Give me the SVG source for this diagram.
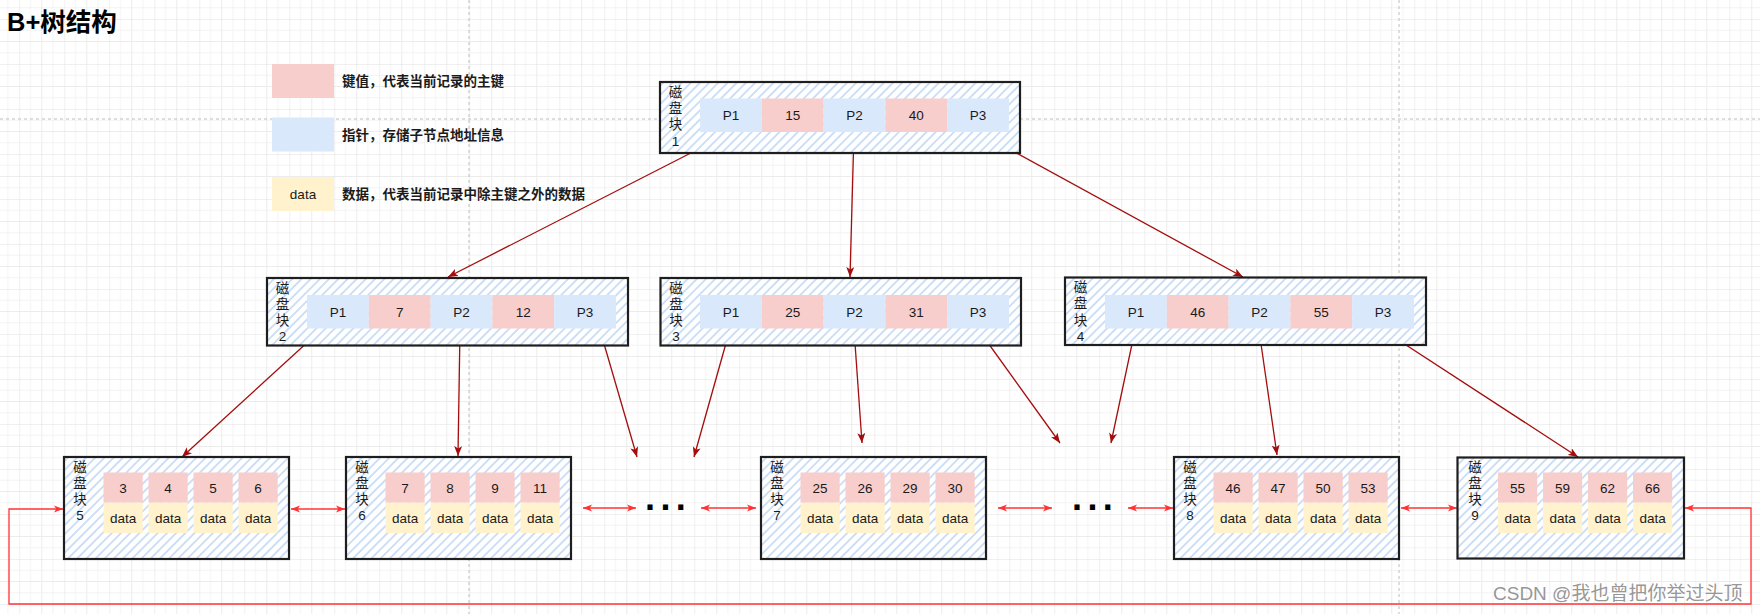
<svg xmlns="http://www.w3.org/2000/svg" width="1760" height="614" viewBox="0 0 1760 614">
<defs>
<pattern id="grid" patternUnits="userSpaceOnUse" x="19.25" y="19" width="45" height="45">
<path d="M11.25 0V45M33.75 0V45M0 11.25H45M0 33.75H45" stroke="#f3f3f3" stroke-width="1" fill="none"/>
<path d="M22.5 0V45M0 22.5H45" stroke="#ececec" stroke-width="1" fill="none"/>
<path d="M0 0V45M0 0H45" stroke="#e2e2e2" stroke-width="1" fill="none"/>
</pattern>
<pattern id="hatch" patternUnits="userSpaceOnUse" width="6.5" height="6.5" patternTransform="rotate(45)">
<rect width="6.5" height="6.5" fill="#ffffff"/>
<line x1="1" y1="0" x2="1" y2="6.5" stroke="#c6dbf6" stroke-width="1.7"/>
</pattern>
<marker id="ah" viewBox="0 0 10 8" refX="10" refY="4" markerWidth="10" markerHeight="8" markerUnits="userSpaceOnUse" orient="auto">
<path d="M0 0L10 4L0 8L2.5 4Z" fill="#a30d0d"/>
</marker>
<marker id="rh" viewBox="0 0 10 8" refX="10" refY="4" markerWidth="9" markerHeight="7.5" markerUnits="userSpaceOnUse" orient="auto-start-reverse">
<path d="M0 0L10 4L0 8L2.5 4Z" fill="#ff3333"/>
</marker>
</defs>
<style>
.frame{fill:url(#hatch);stroke:#1e1e1e;stroke-width:2.2}
.k{fill:#f8cecc}
.p{fill:#dae8fc}
.d{fill:#fff2cc}
.t{font-family:"Liberation Sans",Arial,sans-serif;font-size:13.5px;fill:#1a1a1a;text-anchor:middle}
.lab{font-family:"Liberation Sans","Noto Sans CJK SC",sans-serif;font-size:13.5px;fill:#1a1a1a;text-anchor:middle}
.leg{font-family:"Liberation Sans","Noto Sans CJK SC",sans-serif;font-size:13.5px;font-weight:bold;fill:#1a1a1a}
.tree{stroke:#a30d0d;stroke-width:1.3;fill:none;marker-end:url(#ah)}
.link{stroke:#ff3333;stroke-width:1.3;fill:none;marker-start:url(#rh);marker-end:url(#rh)}
.dots{font-family:"Liberation Sans",Arial,sans-serif;font-size:36px;font-weight:bold;fill:#000;letter-spacing:5.4px}
</style>
<rect width="1760" height="614" fill="#ffffff"/>
<rect width="1760" height="614" fill="url(#grid)"/>
<g id="pagebreaks" stroke="#bdbdbd" stroke-width="1" stroke-dasharray="3 3">
<line x1="0" y1="119" x2="1760" y2="119"/>
<line x1="469" y1="0" x2="469" y2="614"/>
<line x1="1399" y1="0" x2="1399" y2="614"/>
</g>
<g id="title"><text x="7" y="31" font-family="Liberation Sans,'Noto Sans CJK SC',sans-serif" font-size="25.5" font-weight="bold" fill="#000">B+树结构</text></g>
<g id="legend">
<rect class="k" x="272" y="64" width="62" height="34"/>
<text class="leg" x="342" y="86">键值，代表当前记录的主键</text>
<rect class="p" x="272" y="117.5" width="62" height="34"/>
<text class="leg" x="342" y="139.5">指针，存储子节点地址信息</text>
<rect class="d" x="272" y="177" width="62" height="34"/>
<text class="t" x="303" y="198.5">data</text>
<text class="leg" x="342" y="198.5">数据，代表当前记录中除主键之外的数据</text>
</g>
<g id="connectors">
<line class="tree" x1="730" y1="133" x2="448" y2="277"/>
<line class="tree" x1="854" y1="132" x2="850" y2="277"/>
<line class="tree" x1="978" y1="132" x2="1243" y2="277"/>
<line class="tree" x1="322" y1="329" x2="182" y2="457"/>
<line class="tree" x1="460" y1="329" x2="458" y2="456"/>
<line class="tree" x1="600" y1="330" x2="637" y2="457"/>
<line class="tree" x1="730" y1="329" x2="694" y2="457"/>
<line class="tree" x1="854" y1="329" x2="862" y2="443"/>
<line class="tree" x1="978" y1="329" x2="1060" y2="443"/>
<line class="tree" x1="1135" y1="330" x2="1111" y2="443"/>
<line class="tree" x1="1259" y1="330" x2="1277" y2="455"/>
<line class="tree" x1="1383" y1="330" x2="1578" y2="457"/>
<line class="link" x1="291" y1="509" x2="345" y2="509"/>
<line class="link" x1="583" y1="508" x2="636" y2="508"/>
<line class="link" x1="701" y1="508" x2="756" y2="508"/>
<line class="link" x1="998" y1="508" x2="1052" y2="508"/>
<line class="link" x1="1128" y1="508" x2="1173" y2="508"/>
<line class="link" x1="1401" y1="508" x2="1457" y2="508"/>
<path class="link" d="M63 509H9V604H1751V508H1685"/>
</g>
<g id="ellipsis1"><text class="dots" x="645" y="510">...</text></g>
<g id="ellipsis2"><text class="dots" x="1072" y="510">...</text></g>
<g id="node1">
<rect class="frame" x="660" y="82" width="360" height="71"/>
<rect class="p" x="700" y="98.5" width="61.8" height="33.5"/>
<rect class="k" x="761.8" y="98.5" width="61.8" height="33.5"/>
<rect class="p" x="823.6" y="98.5" width="61.8" height="33.5"/>
<rect class="k" x="885.4" y="98.5" width="61.8" height="33.5"/>
<rect class="p" x="947.2" y="98.5" width="61.8" height="33.5"/>
<text class="t" x="730.9" y="120">P1</text><text class="t" x="792.7" y="120">15</text><text class="t" x="854.5" y="120">P2</text><text class="t" x="916.3" y="120">40</text><text class="t" x="978.1" y="120">P3</text>
<text class="lab" x="675.5"><tspan x="675.5" y="97">磁</tspan><tspan x="675.5" y="113.2">盘</tspan><tspan x="675.5" y="129.4">块</tspan><tspan x="675.5" y="145.6">1</tspan></text>
</g>
<g id="node2">
<rect class="frame" x="267" y="278" width="361" height="67.5"/>
<rect class="p" x="307" y="295" width="61.8" height="33.5"/>
<rect class="k" x="368.8" y="295" width="61.8" height="33.5"/>
<rect class="p" x="430.6" y="295" width="61.8" height="33.5"/>
<rect class="k" x="492.4" y="295" width="61.8" height="33.5"/>
<rect class="p" x="554.2" y="295" width="61.8" height="33.5"/>
<text class="t" x="337.9" y="316.5">P1</text><text class="t" x="399.7" y="316.5">7</text><text class="t" x="461.5" y="316.5">P2</text><text class="t" x="523.3" y="316.5">12</text><text class="t" x="585.1" y="316.5">P3</text>
<text class="lab" x="282.5"><tspan x="282.5" y="292.7">磁</tspan><tspan x="282.5" y="308.9">盘</tspan><tspan x="282.5" y="325.1">块</tspan><tspan x="282.5" y="341.3">2</tspan></text>
</g>
<g id="node3">
<rect class="frame" x="660.5" y="278" width="360.5" height="67.5"/>
<rect class="p" x="700" y="295" width="61.8" height="33.5"/>
<rect class="k" x="761.8" y="295" width="61.8" height="33.5"/>
<rect class="p" x="823.6" y="295" width="61.8" height="33.5"/>
<rect class="k" x="885.4" y="295" width="61.8" height="33.5"/>
<rect class="p" x="947.2" y="295" width="61.8" height="33.5"/>
<text class="t" x="730.9" y="316.5">P1</text><text class="t" x="792.7" y="316.5">25</text><text class="t" x="854.5" y="316.5">P2</text><text class="t" x="916.3" y="316.5">31</text><text class="t" x="978.1" y="316.5">P3</text>
<text class="lab" x="676"><tspan x="676" y="292.7">磁</tspan><tspan x="676" y="308.9">盘</tspan><tspan x="676" y="325.1">块</tspan><tspan x="676" y="341.3">3</tspan></text>
</g>
<g id="node4">
<rect class="frame" x="1065" y="277.5" width="361" height="67.5"/>
<rect class="p" x="1105" y="295" width="61.8" height="33.5"/>
<rect class="k" x="1166.8" y="295" width="61.8" height="33.5"/>
<rect class="p" x="1228.6" y="295" width="61.8" height="33.5"/>
<rect class="k" x="1290.4" y="295" width="61.8" height="33.5"/>
<rect class="p" x="1352.2" y="295" width="61.8" height="33.5"/>
<text class="t" x="1135.9" y="316.5">P1</text><text class="t" x="1197.7" y="316.5">46</text><text class="t" x="1259.5" y="316.5">P2</text><text class="t" x="1321.3" y="316.5">55</text><text class="t" x="1383.1" y="316.5">P3</text>
<text class="lab" x="1080.5"><tspan x="1080.5" y="292.2">磁</tspan><tspan x="1080.5" y="308.4">盘</tspan><tspan x="1080.5" y="324.6">块</tspan><tspan x="1080.5" y="340.8">4</tspan></text>
</g>
<g id="node5">
<rect class="frame" x="64" y="457" width="225" height="102"/>
<rect class="k" x="103.5" y="472.5" width="39.2" height="30.2"/><rect class="k" x="148.5" y="472.5" width="39.2" height="30.2"/><rect class="k" x="193.5" y="472.5" width="39.2" height="30.2"/><rect class="k" x="238.5" y="472.5" width="39.2" height="30.2"/>
<rect class="d" x="103.5" y="502.7" width="39.2" height="30.3"/><rect class="d" x="148.5" y="502.7" width="39.2" height="30.3"/><rect class="d" x="193.5" y="502.7" width="39.2" height="30.3"/><rect class="d" x="238.5" y="502.7" width="39.2" height="30.3"/>
<text class="t" x="123.1" y="492.5">3</text><text class="t" x="168.1" y="492.5">4</text><text class="t" x="213.1" y="492.5">5</text><text class="t" x="258.1" y="492.5">6</text>
<text class="t" x="123.1" y="522.7">data</text><text class="t" x="168.1" y="522.7">data</text><text class="t" x="213.1" y="522.7">data</text><text class="t" x="258.1" y="522.7">data</text>
<text class="lab" x="80"><tspan x="80" y="471.5">磁</tspan><tspan x="80" y="487.7">盘</tspan><tspan x="80" y="503.9">块</tspan><tspan x="80" y="520.1">5</tspan></text>
</g>
<g id="node6">
<rect class="frame" x="346" y="457" width="225" height="102"/>
<rect class="k" x="385.5" y="472.5" width="39.2" height="30.2"/><rect class="k" x="430.5" y="472.5" width="39.2" height="30.2"/><rect class="k" x="475.5" y="472.5" width="39.2" height="30.2"/><rect class="k" x="520.5" y="472.5" width="39.2" height="30.2"/>
<rect class="d" x="385.5" y="502.7" width="39.2" height="30.3"/><rect class="d" x="430.5" y="502.7" width="39.2" height="30.3"/><rect class="d" x="475.5" y="502.7" width="39.2" height="30.3"/><rect class="d" x="520.5" y="502.7" width="39.2" height="30.3"/>
<text class="t" x="405.1" y="492.5">7</text><text class="t" x="450.1" y="492.5">8</text><text class="t" x="495.1" y="492.5">9</text><text class="t" x="540.1" y="492.5">11</text>
<text class="t" x="405.1" y="522.7">data</text><text class="t" x="450.1" y="522.7">data</text><text class="t" x="495.1" y="522.7">data</text><text class="t" x="540.1" y="522.7">data</text>
<text class="lab" x="362"><tspan x="362" y="471.5">磁</tspan><tspan x="362" y="487.7">盘</tspan><tspan x="362" y="503.9">块</tspan><tspan x="362" y="520.1">6</tspan></text>
</g>
<g id="node7">
<rect class="frame" x="761" y="457" width="225" height="102"/>
<rect class="k" x="800.5" y="472.5" width="39.2" height="30.2"/><rect class="k" x="845.5" y="472.5" width="39.2" height="30.2"/><rect class="k" x="890.5" y="472.5" width="39.2" height="30.2"/><rect class="k" x="935.5" y="472.5" width="39.2" height="30.2"/>
<rect class="d" x="800.5" y="502.7" width="39.2" height="30.3"/><rect class="d" x="845.5" y="502.7" width="39.2" height="30.3"/><rect class="d" x="890.5" y="502.7" width="39.2" height="30.3"/><rect class="d" x="935.5" y="502.7" width="39.2" height="30.3"/>
<text class="t" x="820.1" y="492.5">25</text><text class="t" x="865.1" y="492.5">26</text><text class="t" x="910.1" y="492.5">29</text><text class="t" x="955.1" y="492.5">30</text>
<text class="t" x="820.1" y="522.7">data</text><text class="t" x="865.1" y="522.7">data</text><text class="t" x="910.1" y="522.7">data</text><text class="t" x="955.1" y="522.7">data</text>
<text class="lab" x="777"><tspan x="777" y="471.5">磁</tspan><tspan x="777" y="487.7">盘</tspan><tspan x="777" y="503.9">块</tspan><tspan x="777" y="520.1">7</tspan></text>
</g>
<g id="node8">
<rect class="frame" x="1174" y="457" width="225" height="102"/>
<rect class="k" x="1213.5" y="472.5" width="39.2" height="30.2"/><rect class="k" x="1258.5" y="472.5" width="39.2" height="30.2"/><rect class="k" x="1303.5" y="472.5" width="39.2" height="30.2"/><rect class="k" x="1348.5" y="472.5" width="39.2" height="30.2"/>
<rect class="d" x="1213.5" y="502.7" width="39.2" height="30.3"/><rect class="d" x="1258.5" y="502.7" width="39.2" height="30.3"/><rect class="d" x="1303.5" y="502.7" width="39.2" height="30.3"/><rect class="d" x="1348.5" y="502.7" width="39.2" height="30.3"/>
<text class="t" x="1233.1" y="492.5">46</text><text class="t" x="1278.1" y="492.5">47</text><text class="t" x="1323.1" y="492.5">50</text><text class="t" x="1368.1" y="492.5">53</text>
<text class="t" x="1233.1" y="522.7">data</text><text class="t" x="1278.1" y="522.7">data</text><text class="t" x="1323.1" y="522.7">data</text><text class="t" x="1368.1" y="522.7">data</text>
<text class="lab" x="1190"><tspan x="1190" y="471.5">磁</tspan><tspan x="1190" y="487.7">盘</tspan><tspan x="1190" y="503.9">块</tspan><tspan x="1190" y="520.1">8</tspan></text>
</g>
<g id="node9">
<rect class="frame" x="1457.5" y="457.5" width="226.5" height="101"/>
<rect class="k" x="1498" y="472.5" width="39.2" height="30.2"/><rect class="k" x="1543" y="472.5" width="39.2" height="30.2"/><rect class="k" x="1588" y="472.5" width="39.2" height="30.2"/><rect class="k" x="1633" y="472.5" width="39.2" height="30.2"/>
<rect class="d" x="1498" y="502.7" width="39.2" height="30.3"/><rect class="d" x="1543" y="502.7" width="39.2" height="30.3"/><rect class="d" x="1588" y="502.7" width="39.2" height="30.3"/><rect class="d" x="1633" y="502.7" width="39.2" height="30.3"/>
<text class="t" x="1517.6" y="492.5">55</text><text class="t" x="1562.6" y="492.5">59</text><text class="t" x="1607.6" y="492.5">62</text><text class="t" x="1652.6" y="492.5">66</text>
<text class="t" x="1517.6" y="522.7">data</text><text class="t" x="1562.6" y="522.7">data</text><text class="t" x="1607.6" y="522.7">data</text><text class="t" x="1652.6" y="522.7">data</text>
<text class="lab" x="1475"><tspan x="1475" y="471.5">磁</tspan><tspan x="1475" y="487.7">盘</tspan><tspan x="1475" y="503.9">块</tspan><tspan x="1475" y="520.1">9</tspan></text>
</g>
<g id="watermark"><text x="1493" y="600" font-family="Liberation Sans,'Noto Sans CJK SC',sans-serif" font-size="19" fill="#8a8a8a" fill-opacity="0.9">CSDN @我也曾把你举过头顶</text></g>
</svg>
